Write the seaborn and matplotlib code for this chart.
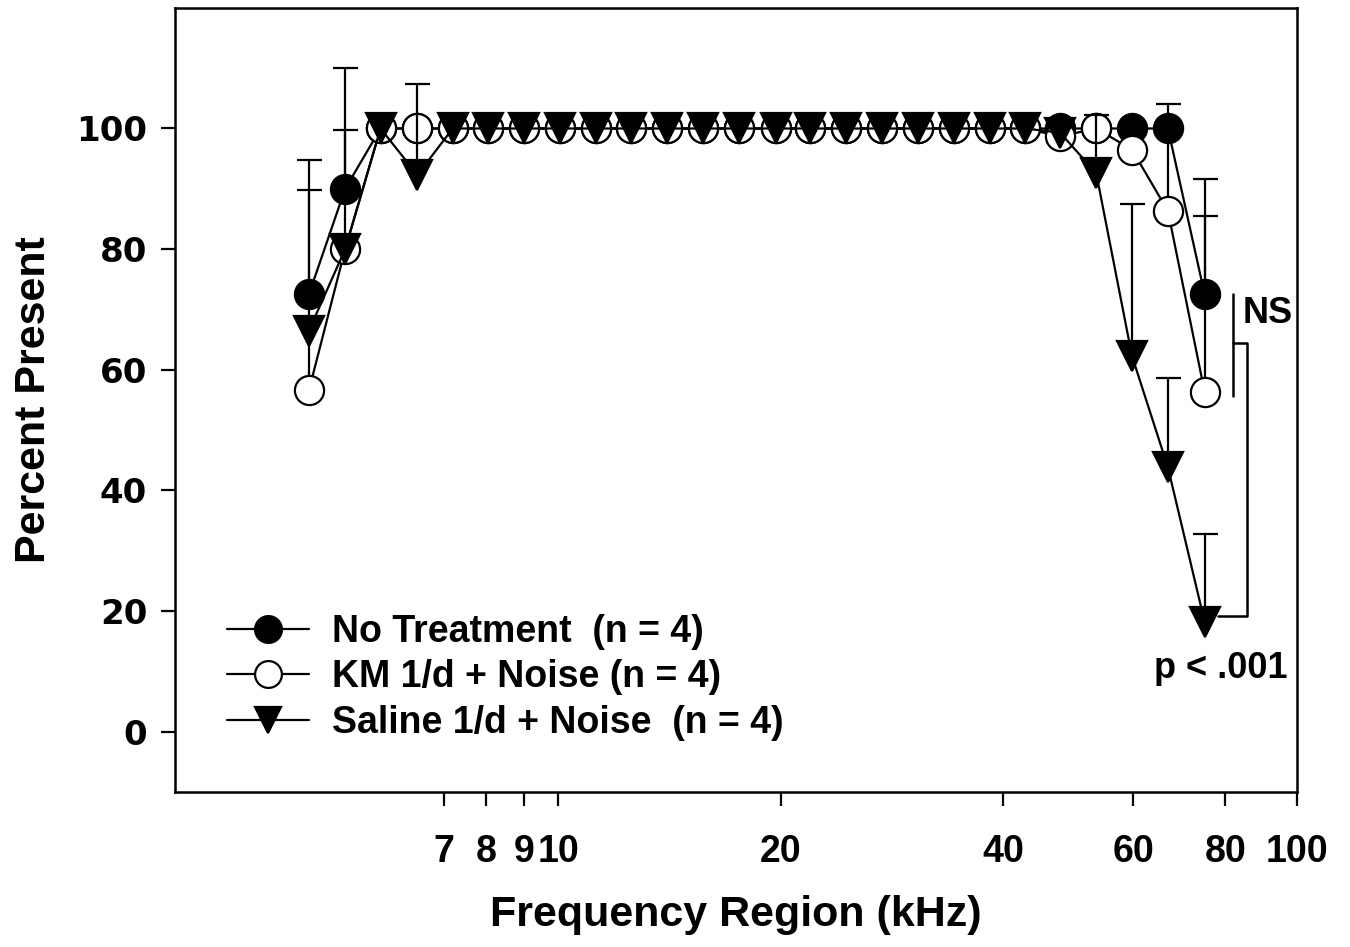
import numpy as np
import seaborn as sns
import matplotlib.pyplot as plt
from matplotlib.ticker import NullLocator

# frequency regions (kHz)
freq = [4.6, 5.15, 5.75, 6.45, 7.2, 8.05, 9.0, 10.05, 11.25, 12.55, 14.05, 15.7, 17.6,
        19.7, 21.9, 24.5, 27.4, 30.7, 34.3, 38.4, 42.9, 47.8, 53.5, 59.8, 66.9, 75.0]

no_treat = [72.5, 90, 100, 100, 100, 100, 100, 100, 100, 100, 100, 100, 100,
            100, 100, 100, 100, 100, 100, 100, 100, 100, 100, 100, 100, 72.5]
km_noise = [56.6, 80, 100, 100, 100, 100, 100, 100, 100, 100, 100, 100, 100,
            100, 100, 100, 100, 100, 100, 100, 100, 98.7, 100, 96.5, 86.3, 56.3]
saline = [66.5, 80, 100, 92.3, 100, 100, 100, 100, 100, 100, 100, 100, 100,
          100, 100, 100, 100, 100, 100, 100, 100, 99.3, 92.6, 62.3, 43.8, 18.2]

# upward SD bars
no_treat_err = [22.3, 20, 0, 0, 0, 0, 0, 0, 0, 0, 0, 0, 0,
                0, 0, 0, 0, 0, 0, 0, 0, 0, 0, 0, 0, 19.1]
km_noise_err = [33.2, 19.8, 0, 0, 0, 0, 0, 0, 0, 0, 0, 0, 0,
                0, 0, 0, 0, 0, 0, 0, 0, 0, 0, 0, 17.7, 29.2]
saline_err = [0, 0, 0, 15.1, 0, 0, 0, 0, 0, 0, 0, 0, 0,
              0, 0, 0, 0, 0, 0, 0, 0, 0, 9.7, 25.2, 14.9, 14.5]

labels = ["No Treatment  (n = 4)", "KM 1/d + Noise (n = 4)", "Saline 1/d + Noise  (n = 4)"]
xticks = [7, 8, 9, 10, 20, 40, 60, 80, 100]

sns.set_style("ticks")
plt.rcParams["font.family"] = ["Liberation Sans", "DejaVu Sans"]
plt.rcParams["font.weight"] = "bold"
plt.rcParams["text.color"] = "black"
plt.rcParams["axes.labelcolor"] = "black"
plt.rcParams["xtick.color"] = "black"
plt.rcParams["ytick.color"] = "black"

fig = plt.figure(figsize=(13.5, 9.47), dpi=100)
ax = fig.add_axes([0.1296, 0.1637, 0.8311, 0.828])

series = [
    (no_treat, no_treat_err, "o", "black", 21),
    (km_noise, km_noise_err, "o", "white", 21),
    (saline, saline_err, "v", "black", 21),
]
for i, (vals, err, mk, face, ms) in enumerate(series):
    x = np.array(freq)
    y = np.array(vals, dtype=float)
    e = np.array(err, dtype=float)
    m = e > 0
    _, caps, _ = ax.errorbar(x[m], y[m], yerr=[np.zeros(m.sum()), e[m]], fmt="none",
                             ecolor="black", elinewidth=1.6, capsize=9, capthick=1.6,
                             zorder=3 * i + 2)
    # keep only the upper caps
    for cl in caps:
        if np.allclose(cl.get_ydata(), y[m]):
            cl.set_visible(False)
    sns.lineplot(x=freq, y=vals, ax=ax, color="black", linewidth=1.6,
                 marker=mk, markersize=ms, markerfacecolor=face,
                 markeredgecolor="black", markeredgewidth=1.6,
                 label=labels[i], zorder=3 * i + 3, sort=False)

ax.set_xscale("log")
ax.set_xlim(3.03, 100)
ax.set_ylim(-10, 120)
ax.set_xticks(xticks)
ax.set_xticklabels([str(t) for t in xticks], fontsize=27, fontweight="bold")
ax.xaxis.set_minor_locator(NullLocator())
ax.set_yticks([0, 20, 40, 60, 80, 100])
ax.set_yticklabels(["0", "20", "40", "60", "80", "100"], fontsize=24.5,
                   fontweight="bold", family="DejaVu Sans")
ax.tick_params(axis="x", length=10, width=1.6, pad=20, color="black")
ax.tick_params(axis="y", length=10, width=1.6, pad=10, color="black")
for sp in ax.spines.values():
    sp.set_visible(True)
    sp.set_linewidth(1.8)
    sp.set_color("black")

ax.set_xlabel("Frequency Region (kHz)", fontsize=31, fontweight="bold", labelpad=18)
ax.set_ylabel("Percent Present", fontsize=31, fontweight="bold", labelpad=16)

# significance brackets
ns_top, ns_bot = no_treat[-1], km_noise[-1]
ns_mid = (ns_top + ns_bot) / 2
p_bot = saline[-1] + 0.9
ax.plot([81.9, 81.9], [ns_top, ns_bot - 0.6], color="black", lw=1.8, zorder=20)
ax.plot([81.9, 85.5, 85.5, 78.2], [ns_mid, ns_mid, p_bot, p_bot],
        color="black", lw=1.8, zorder=20)
ax.text(84.3, 69.3, "NS", fontsize=26, fontweight="bold", ha="left", va="center")
ax.text(78.9, 10.4, "p < .001", fontsize=26, fontweight="bold", ha="center", va="center")

leg = ax.legend(loc="upper left", bbox_to_anchor=(0.046, 0.227), frameon=False,
                fontsize=27, handlelength=2.2, handletextpad=0.6, labelspacing=0.25,
                borderpad=0, borderaxespad=0, numpoints=1, markerscale=0.92)
for t in leg.get_texts():
    t.set_fontweight("bold")
    t.set_color("black")

fig.savefig("out.png", dpi=100)
